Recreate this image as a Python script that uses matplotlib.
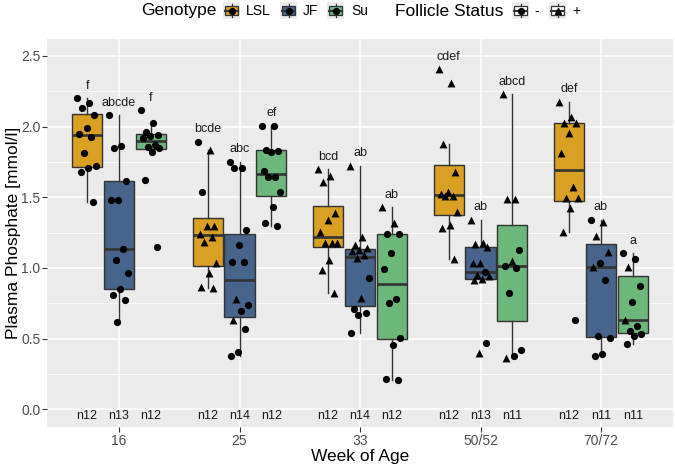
import numpy as np
import matplotlib
matplotlib.use('Agg')
import matplotlib.pyplot as plt
from matplotlib.patches import Rectangle

plt.rcParams['font.family'] = ['Liberation Sans', 'DejaVu Sans']

weeks = ['16', '25', '33', '50/52', '70/72']
genotypes = ['LSL', 'JF', 'Su']
colors = ['#D9A024', '#46648C', '#6CB87A']

# plasma phosphate [mmol/l] per bird, follicle status as '-' / '+' in the same order
lsl_16 = [2.20, 2.17, 2.13, 2.08, 1.99, 1.95, 1.93, 1.81, 1.72, 1.71, 1.68, 1.47]
lsl_16_fs = '------------'
jf_16 = [2.08, 1.865, 1.848, 1.615, 1.478, 1.478, 1.135, 1.053, 0.965, 0.853, 0.81, 0.77, 0.618]
jf_16_fs = '-------------'
su_16 = [2.115, 2.023, 1.96, 1.94, 1.933, 1.922, 1.87, 1.858, 1.846, 1.818, 1.62, 1.147]
su_16_fs = '------------'

lsl_25 = [1.893, 1.834, 1.539, 1.296, 1.296, 1.241, 1.22, 1.185, 1.032, 0.961, 0.865, 0.855]
lsl_25_fs = '-+-+++++++++'
jf_25 = [1.752, 1.705, 1.705, 1.268, 1.161, 1.041, 1.041, 0.784, 0.737, 0.696, 0.635, 0.571, 0.406, 0.375]
jf_25_fs = '-------+--+---'
su_25 = [2.006, 2.006, 1.838, 1.83, 1.82, 1.686, 1.641, 1.641, 1.539, 1.433, 1.32, 1.30]
su_25_fs = '------------'

lsl_33 = [1.697, 1.65, 1.61, 1.386, 1.343, 1.256, 1.176, 1.176, 1.176, 1.055, 0.989, 0.824]
lsl_33_fs = '++++++++++++'
jf_33 = [1.721, 1.22, 1.166, 1.14, 1.13, 1.12, 1.091, 1.07, 0.926, 0.788, 0.713, 0.685, 0.666, 0.54]
jf_33_fs = '++++++++-+----'
su_33 = [1.428, 1.315, 1.24, 1.237, 1.107, 0.994, 0.784, 0.753, 0.508, 0.458, 0.215, 0.205]
su_33_fs = '++----------'

lsl_50 = [2.406, 2.307, 1.877, 1.678, 1.535, 1.52, 1.51, 1.508, 1.398, 1.303, 1.28, 1.062]
lsl_50_fs = '++++++++++++'
jf_50 = [1.338, 1.18, 1.17, 1.15, 1.032, 1.032, 0.973, 0.95, 0.942, 0.921, 0.914, 0.47, 0.399]
jf_50_fs = '++++++-++++-+'
su_50 = [2.229, 1.49, 1.485, 1.126, 1.05, 1.013, 1.0, 0.826, 0.418, 0.375, 0.366]
su_50_fs = '+++-+-----+'

lsl_70 = [2.176, 2.07, 2.023, 2.023, 1.953, 1.811, 1.574, 1.492, 1.492, 1.426, 1.256, 0.63]
lsl_70_fs = '+++++++++++-'
jf_70 = [1.338, 1.327, 1.228, 1.11, 1.036, 1.008, 0.918, 0.517, 0.508, 0.39, 0.375]
jf_70_fs = '-+++-+-----'
su_70 = [1.103, 1.062, 1.008, 0.873, 0.756, 0.63, 0.59, 0.555, 0.53, 0.52, 0.46]
su_70_fs = '--+--+-----'

letters = [['f', 'abcde', 'f'],
           ['bcde', 'abc', 'ef'],
           ['bcd', 'ab', 'ab'],
           ['cdef', 'ab', 'abcd'],
           ['def', 'ab', 'a']]

groups = [[(lsl_16, lsl_16_fs), (jf_16, jf_16_fs), (su_16, su_16_fs)],
          [(lsl_25, lsl_25_fs), (jf_25, jf_25_fs), (su_25, su_25_fs)],
          [(lsl_33, lsl_33_fs), (jf_33, jf_33_fs), (su_33, su_33_fs)],
          [(lsl_50, lsl_50_fs), (jf_50, jf_50_fs), (su_50, su_50_fs)],
          [(lsl_70, lsl_70_fs), (jf_70, jf_70_fs), (su_70, su_70_fs)]]

W, H = 675, 467
fig = plt.figure(figsize=(W / 100, H / 100), dpi=100)
ax = fig.add_axes([46.7 / W, 1 - 427 / H, 626.6 / W, 388 / H])
ax.set_facecolor('#EBEBEB')
for s in ax.spines.values():
    s.set_visible(False)

edge = '#333333'
dodge = 0.265
for i in range(len(weeks)):
    for j in range(3):
        vals, fs = groups[i][j]
        pos = i + (j - 1) * dodge
        ax.boxplot(vals, positions=[pos], widths=0.25, whis=1.5, showfliers=False,
                   showcaps=False, patch_artist=True, manage_ticks=False,
                   boxprops=dict(facecolor=colors[j], edgecolor=edge, linewidth=1.0),
                   medianprops=dict(color=edge, linewidth=1.9),
                   whiskerprops=dict(color=edge, linewidth=1.0), zorder=2)
        # simple deterministic jitter
        n = len(vals)
        jit = ((np.arange(n) * 0.618) % 1 - 0.5) * 0.16
        xs = pos + jit
        v = np.array(vals)
        minus = np.array([c == '-' for c in fs])
        ax.scatter(xs[minus], v[minus], marker='o', s=27, color='black', zorder=3, linewidths=0)
        ax.scatter(xs[~minus], v[~minus], marker='^', s=32, color='black', zorder=3, linewidths=0)
        ax.text(pos, max(vals) + 0.09, letters[i][j], ha='center', va='center', fontsize=9, color='#1A1A1A')
        ax.text(pos, -0.05, 'n%d' % n, ha='center', va='center', fontsize=9, color='#1A1A1A')

ax.set_xlim(-0.6, 4.6)
ax.set_ylim(-0.125, 2.62)
ax.set_xticks(range(len(weeks)))
ax.set_xticklabels(weeks)
ax.set_yticks(np.arange(0, 2.51, 0.5))
ax.set_yticklabels(['%.1f' % t for t in np.arange(0, 2.51, 0.5)])
ax.set_yticks(np.arange(0.25, 2.51, 0.5), minor=True)
ax.grid(which='major', color='white', linewidth=1.2)
ax.grid(which='minor', axis='y', color='white', linewidth=0.6)
ax.set_axisbelow(True)
ax.tick_params(axis='both', which='major', colors='#333333', length=3.6, width=0.8,
               labelcolor='#4D4D4D', labelsize=10)
ax.tick_params(axis='x', which='major', pad=1.5)
ax.tick_params(axis='y', which='major', pad=1)
ax.tick_params(axis='y', which='minor', length=0)

fig.text(360 / W, 1 - 461 / H, 'Week of Age', ha='center', va='baseline', fontsize=12.5)
fig.text(14 / W, 1 - 233 / H, 'Plasma Phosphate [mmol/l]', ha='center', va='center',
         rotation=90, fontsize=12.5)


# legend on top, drawn by hand so the titles sit inline
def legend_key(x0, fill, marker):
    k = fig.add_axes([x0 / W, 1 - 19 / H, 17 / W, 17 / H])
    k.set_xlim(0, 1)
    k.set_ylim(0, 1)
    k.axis('off')
    k.add_patch(Rectangle((0, 0), 1, 1, facecolor='#EBEBEB', edgecolor='none'))
    k.plot([0.5, 0.5], [0.1, 0.25], color=edge, lw=0.9)
    k.plot([0.5, 0.5], [0.75, 0.9], color=edge, lw=0.9)
    k.add_patch(Rectangle((0.1, 0.25), 0.8, 0.5, facecolor=fill, edgecolor=edge, lw=0.9))
    k.plot([0.1, 0.9], [0.5, 0.5], color=edge, lw=1.5)
    k.plot([0.5], [0.5], marker=marker, color='black', markersize=4.2, linestyle='none')


ly = 1 - 11 / H
fig.text(217 / W, ly, 'Genotype', ha='right', va='center', fontsize=12.5)
for x0, c, lab, tx in zip([223, 280, 327], colors, genotypes, [246, 303, 351]):
    legend_key(x0, c, 'o')
    fig.text(tx / W, ly, lab, ha='left', va='center', fontsize=10)
fig.text(395 / W, ly, 'Follicle Status', ha='left', va='center', fontsize=12.5)
legend_key(512, 'white', 'o')
fig.text(534 / W, ly, '-', ha='left', va='center', fontsize=10)
legend_key(549, 'white', '^')
fig.text(572 / W, ly, '+', ha='left', va='center', fontsize=10)

fig.savefig('out.png', dpi=100)
